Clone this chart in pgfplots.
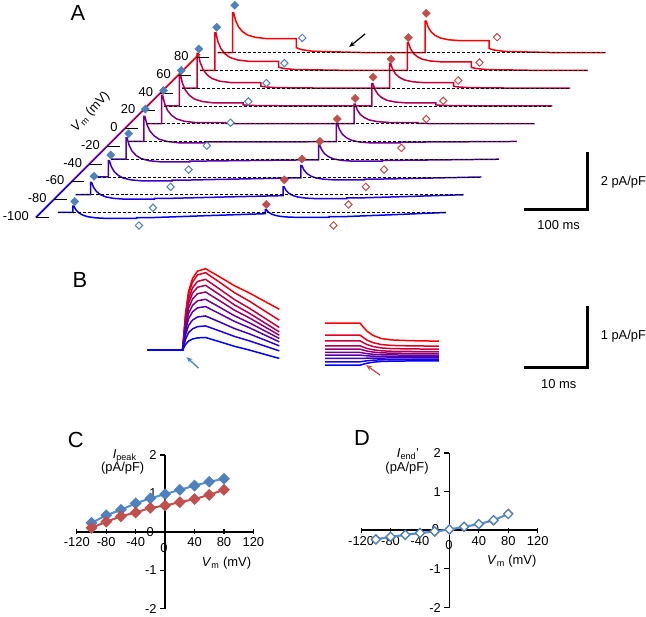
\documentclass[border=0pt]{standalone}
\usepackage{fontspec}
\setmainfont{Liberation Sans}
\usepackage{pgfplots}
\pgfplotsset{compat=1.18}
\usepackage{pgfplotstable}
\usetikzlibrary{arrows.meta}
\definecolor{stb}{RGB}{79,129,189}
\definecolor{stl}{RGB}{85,142,213}
\definecolor{rdm}{RGB}{192,80,77}
\colorlet{c0}{red!0!blue}
\colorlet{c1}{red!11!blue}
\colorlet{c2}{red!22!blue}
\colorlet{c3}{red!33!blue}
\colorlet{c4}{red!44!blue}
\colorlet{c5}{red!56!blue}
\colorlet{c6}{red!67!blue}
\colorlet{c7}{red!78!blue}
\colorlet{c8}{red!89!blue}
\colorlet{c9}{red!100!blue}
\newcommand{\fs}{\fontsize{13}{15}\selectfont}
\newcommand{\fb}{\fontsize{22}{26}\selectfont}
\pgfplotsset{colormap={br}{rgb=(0,0,1) rgb=(1,0,0)}}

\pgfplotstableread{
t v0 v1 v2 v3 v4 v5 v6 v7 v8 v9
0 0 0 0 0 0 0 0 0 0 0
15 0 0 0 0 0 0 0 0 0 0
15 6.5 12.5 16.5 21.3 25.2 28.4 31.6 34.8 37.7 40
16 6.5 12.5 16.5 21.3 25.2 28.4 31.6 34.8 37.7 40
18 2.75 7.4 10.35 14.1 17.25 20.18 23.02 26.01 29.09 32.2
21 -0.38 3.15 5.23 8.1 10.63 13.33 15.87 18.69 21.92 25.7
25 -2.63 0.09 1.54 3.78 5.86 8.4 10.72 13.41 16.75 21.02
30 -4.25 -2.12 -1.13 0.66 2.41 4.84 7 9.6 13.02 17.64
38 -5.38 -3.65 -2.97 -1.5 0.03 2.37 4.43 6.97 10.44 15.3
50 -6 -4.5 -4 -2.7 -1.3 1 3 5.5 9 14
79 -6 -4.5 -4 -2.7 -1.3 1 3 5.5 9 14
79 -5.2 -3.7 -3.2 -1.9 -0.5 0.35 1.05 1.93 3.15 4.9
84 -5.2 -3.7 -3.2 -1.9 -0.5 0.22 0.66 1.21 1.98 3.08
95 -5.1 -3.6 -3.1 -1.8 -0.4 0.1 0.3 0.55 0.9 1.4
150 -3.15 -2.25 -1.95 -1.17 -0.33 0 0 0 0 0
208 -1.2 -0.9 -0.8 -0.54 -0.26 0 0 0 0 0
208 2.8 7.8 11.5 14.5 18 19.7 22.3 24.7 27.8 31.6
209 2.8 7.8 11.5 14.5 18 19.7 22.3 24.7 27.8 31.6
211 0.46 4.26 7.15 9.55 12.15 14.15 16.51 18.94 22.01 25.72
214 -1.49 1.31 3.53 5.43 7.28 9.53 11.69 14.14 17.19 20.82
218 -2.89 -0.81 0.92 2.46 3.77 6.2 8.21 10.68 13.71 17.29
223 -3.91 -2.35 -0.97 0.31 1.23 3.79 5.7 8.19 11.2 14.74
231 -4.61 -3.41 -2.27 -1.17 -0.52 2.13 3.97 6.46 9.47 12.98
243 -5 -4 -3 -2 -1.5 1.2 3 5.5 8.5 12
272 -5 -4 -3 -2 -1.5 1.2 3 5.5 8.5 12
272 -4.2 -3.2 -2.2 -1.2 -0.7 0.42 1.05 1.93 2.98 4.2
277 -4.2 -3.2 -2.2 -1.2 -0.7 0.26 0.66 1.21 1.87 2.64
288 -4.1 -3.1 -2.1 -1.1 -0.6 0.12 0.3 0.55 0.85 1.2
340 -2.05 -1.55 -1.05 -0.55 -0.3 0 0 0 0 0
389 0 0 0 0 0 0 0 0 0 0
}\traceA

\pgfplotstableread{
x b0 b1 b2 b3 b4 b5 b6 b7 b8 b9
148 0 0 0 0 0 0 0 0 0 0
183 0 0 0 0 0 0 0 0 0 0
186 5.72 10.94 15.44 19.67 22.95 26.24 29.25 31.95 34.97 36.77
189 9.14 17.5 24.7 31.46 36.72 41.98 46.8 51.12 55.94 58.82
193 11.18 21.38 30.18 38.46 44.88 51.3 57.2 62.48 68.38 71.9
198 12.32 23.57 33.27 42.39 49.47 56.55 63.05 68.87 75.37 79.25
206 12.7 24.3 34.3 43.7 51 58.3 65 71 77.7 81.7
220 8.5 19.3 28.3 36.62 43.14 49.64 55.66 61.34 68.16 73.56
235 3.88 13.8 21.7 28.83 34.49 40.11 45.39 50.71 57.67 64.61
250 0.1 9.3 16.3 22.46 27.42 32.32 36.98 42.02 49.08 57.28
265 -4.1 4.3 10.3 15.38 19.56 23.66 27.64 32.36 39.54 49.14
280 -8.3 -0.7 4.3 8.3 11.7 15 18.3 22.7 30 41
}\traceBL

\pgfplotstableread{
x r0 r1 r2 r3 r4 r5 r6 r7 r8 r9
326 366 362.7 359.3 356 353.3 350 346.7 341.7 336 324
361 366 362.7 359.3 356 353.3 350 346.7 341.7 336 324
364 365.14 362.22 359.2 356.3 353.84 350.86 347.86 343.36 338.2 327.6
368 364.07 361.62 359.08 356.68 354.52 351.94 349.31 345.44 340.95 332.1
374 363.08 361.07 358.96 357.02 355.14 352.92 350.64 347.34 343.48 336.24
382 362.35 360.66 358.88 357.28 355.6 353.66 351.63 348.76 345.35 339.3
392 362 360.47 358.84 357.4 355.81 354 352.09 349.42 346.23 340.74
410 361.83 360.37 358.82 357.46 355.92 354.17 352.33 349.75 346.67 341.46
440 361.7 360.3 358.8 357.5 356 354.3 352.5 350 347 342
}\traceBR

\begin{document}
\begin{tikzpicture}
% ---------------- background axis in pixel coordinates ----------------
\begin{axis}[at={(0,0)}, anchor=south west, scale only axis,
  width=646bp, height=618bp, xmin=0, xmax=646, ymin=0, ymax=618,
  y dir=reverse, hide axis, clip=false]
\addplot[draw=none] coordinates {(0,0) (646,618)};
% --- panel A traces
\addplot[c0, line width=1.5bp] table[x expr=\thisrow{t}+58, y expr=213-\thisrow{v0}] {\traceA};
\addplot[c1, line width=1.5bp] table[x expr=\thisrow{t}+75.8, y expr=195.2-\thisrow{v1}] {\traceA};
\addplot[c2, line width=1.5bp] table[x expr=\thisrow{t}+93.6, y expr=177.4-\thisrow{v2}] {\traceA};
\addplot[c3, line width=1.5bp] table[x expr=\thisrow{t}+111.4, y expr=159.6-\thisrow{v3}] {\traceA};
\addplot[c4, line width=1.5bp] table[x expr=\thisrow{t}+129.2, y expr=141.8-\thisrow{v4}] {\traceA};
\addplot[c5, line width=1.5bp] table[x expr=\thisrow{t}+147, y expr=124-\thisrow{v5}] {\traceA};
\addplot[c6, line width=1.5bp] table[x expr=\thisrow{t}+164.8, y expr=106.2-\thisrow{v6}] {\traceA};
\addplot[c7, line width=1.5bp] table[x expr=\thisrow{t}+182.6, y expr=88.4-\thisrow{v7}] {\traceA};
\addplot[c8, line width=1.5bp] table[x expr=\thisrow{t}+200.4, y expr=70.6-\thisrow{v8}] {\traceA};
\addplot[c9, line width=1.5bp] table[x expr=\thisrow{t}+218.2, y expr=52.8-\thisrow{v9}] {\traceA};
% dashed zero lines
\addplot[black, line width=0.8bp, dash pattern=on 3bp off 2bp] coordinates {(58,213) (447,213)};
\addplot[black, line width=0.8bp, dash pattern=on 3bp off 2bp] coordinates {(75.8,195.2) (464.8,195.2)};
\addplot[black, line width=0.8bp, dash pattern=on 3bp off 2bp] coordinates {(93.6,177.4) (482.6,177.4)};
\addplot[black, line width=0.8bp, dash pattern=on 3bp off 2bp] coordinates {(111.4,159.6) (500.4,159.6)};
\addplot[black, line width=0.8bp, dash pattern=on 3bp off 2bp] coordinates {(129.2,141.8) (518.2,141.8)};
\addplot[black, line width=0.8bp, dash pattern=on 3bp off 2bp] coordinates {(147,124) (536,124)};
\addplot[black, line width=0.8bp, dash pattern=on 3bp off 2bp] coordinates {(164.8,106.2) (553.8,106.2)};
\addplot[black, line width=0.8bp, dash pattern=on 3bp off 2bp] coordinates {(182.6,88.4) (571.6,88.4)};
\addplot[black, line width=0.8bp, dash pattern=on 3bp off 2bp] coordinates {(200.4,70.6) (589.4,70.6)};
\addplot[black, line width=0.8bp, dash pattern=on 3bp off 2bp] coordinates {(218.2,52.8) (607.2,52.8)};
% diagonal Vm axis
\addplot[mesh, colormap name=br, point meta=explicit, line width=1.8bp] coordinates {
 (36,218) [0] (53.8,200.2) [1] (71.6,182.4) [2] (89.4,164.6) [3] (107.2,146.8) [4]
 (125,129) [5] (142.8,111.2) [6] (160.6,93.4) [7] (178.4,75.6) [8] (196.2,57.8) [9] (200,54) [9]};
\addplot[black, line width=1bp, unbounded coords=jump] coordinates {
 (36,218) (49,218) (nan,nan)
 (53.8,200.2) (66.8,200.2) (nan,nan)
 (71.6,182.4) (84.6,182.4) (nan,nan)
 (89.4,164.6) (102.4,164.6) (nan,nan)
 (107.2,146.8) (120.2,146.8) (nan,nan)
 (125,129) (138,129) (nan,nan)
 (142.8,111.2) (155.8,111.2) (nan,nan)
 (160.6,93.4) (173.6,93.4) (nan,nan)
 (178.4,75.6) (191.4,75.6) (nan,nan)
 (196.2,57.8) (209.2,57.8)};
\node[anchor=east, font=\fs, inner sep=0pt] at (29,216.5) {-100};
\node[anchor=east, font=\fs, inner sep=0pt] at (46.8,198.7) {-80};
\node[anchor=east, font=\fs, inner sep=0pt] at (64.6,180.9) {-60};
\node[anchor=east, font=\fs, inner sep=0pt] at (82.4,163.1) {-40};
\node[anchor=east, font=\fs, inner sep=0pt] at (100.2,145.3) {-20};
\node[anchor=east, font=\fs, inner sep=0pt] at (118,127.5) {0};
\node[anchor=east, font=\fs, inner sep=0pt] at (135.8,109.7) {20};
\node[anchor=east, font=\fs, inner sep=0pt] at (153.6,91.9) {40};
\node[anchor=east, font=\fs, inner sep=0pt] at (171.4,74.1) {60};
\node[anchor=east, font=\fs, inner sep=0pt] at (189.2,56.3) {80};
\node[font=\fs, rotate=47, inner sep=0pt] at (91,112) {\textit{V}\textsubscript{m} (mV)};
% markers panel A
\addplot[only marks, mark=square*, mark size=2.9bp, mark options={rotate=45, draw=stb, fill=stb}] coordinates {
 (75,202) (94.3,176.7) (111,155.3) (129,134) (145.7,109.3) (164,90.7) (181.7,70.7) (199.3,49) (217.3,27.3) (235.3,5.3)};
\addplot[only marks, mark=square*, mark size=2.9bp, mark options={rotate=45, draw=rdm, fill=rdm}] coordinates {
 (267,205) (285,180.3) (302.7,159.3) (320.7,141.7) (338,119.3) (356,98.7) (374,77.3) (392,59.3) (409.3,37.7) (427.3,13.3)};
\addplot[only marks, mark=square*, mark size=2.6bp, mark options={rotate=45, draw=stb, fill=white, line width=1bp}] coordinates {
 (139.3,226) (153.3,208.3) (171,187.3) (189,170) (207.3,146) (231,123) (249,101.7) (267,83.3) (285,63.3) (303,38)};
\addplot[only marks, mark=square*, mark size=2.6bp, mark options={rotate=45, draw=rdm, fill=white, line width=1bp}] coordinates {
 (334.3,226) (349.3,205) (366.7,187.3) (385,170) (402.3,148.3) (427.3,119.3) (444.3,101) (459.3,80.7) (480.7,62.7) (498.3,37.3)};
\addplot[black, line width=1.2bp, -{Stealth[length=6bp, width=5bp]}] coordinates {(366,34) (350,47)};
% scale bar A
\addplot[black, line width=3bp, line join=miter] coordinates {(525,210) (589,210) (589,152)};
\node[anchor=west, font=\fs, inner sep=0pt] at (602,183) {2 pA/pF};
\node[font=\fs, inner sep=0pt] at (560,226) {100 ms};
\node[font=\fb, inner sep=0pt] at (78,13) {A};
% --- panel B
\addplot[c9, line width=1.5bp] table[x=x, y expr=351-\thisrow{b9}] {\traceBL};
\addplot[c8, line width=1.5bp] table[x=x, y expr=351-\thisrow{b8}] {\traceBL};
\addplot[c7, line width=1.5bp] table[x=x, y expr=351-\thisrow{b7}] {\traceBL};
\addplot[c6, line width=1.5bp] table[x=x, y expr=351-\thisrow{b6}] {\traceBL};
\addplot[c5, line width=1.5bp] table[x=x, y expr=351-\thisrow{b5}] {\traceBL};
\addplot[c4, line width=1.5bp] table[x=x, y expr=351-\thisrow{b4}] {\traceBL};
\addplot[c3, line width=1.5bp] table[x=x, y expr=351-\thisrow{b3}] {\traceBL};
\addplot[c2, line width=1.5bp] table[x=x, y expr=351-\thisrow{b2}] {\traceBL};
\addplot[c1, line width=1.5bp] table[x=x, y expr=351-\thisrow{b1}] {\traceBL};
\addplot[c0, line width=1.5bp] table[x=x, y expr=351-\thisrow{b0}] {\traceBL};
\addplot[c9, line width=1.5bp] table[x=x, y=r9] {\traceBR};
\addplot[c8, line width=1.5bp] table[x=x, y=r8] {\traceBR};
\addplot[c7, line width=1.5bp] table[x=x, y=r7] {\traceBR};
\addplot[c6, line width=1.5bp] table[x=x, y=r6] {\traceBR};
\addplot[c5, line width=1.5bp] table[x=x, y=r5] {\traceBR};
\addplot[c4, line width=1.5bp] table[x=x, y=r4] {\traceBR};
\addplot[c3, line width=1.5bp] table[x=x, y=r3] {\traceBR};
\addplot[c2, line width=1.5bp] table[x=x, y=r2] {\traceBR};
\addplot[c1, line width=1.5bp] table[x=x, y=r1] {\traceBR};
\addplot[c0, line width=1.5bp] table[x=x, y=r0] {\traceBR};
\addplot[stb, line width=1.3bp, -{Stealth[length=6bp, width=5bp]}] coordinates {(199,369) (187,358)};
\addplot[rdm, line width=1.3bp, -{Stealth[length=6bp, width=5bp]}] coordinates {(381,376) (367,366)};
\addplot[black, line width=3bp, line join=miter] coordinates {(525,368) (589,368) (589,307)};
\node[anchor=west, font=\fs, inner sep=0pt] at (602,337) {1 pA/pF};
\node[font=\fs, inner sep=0pt] at (560,385) {10 ms};
\node[font=\fb, inner sep=0pt] at (80,281) {B};
% --- labels C and D
\node[font=\fb, inner sep=0pt] at (76,441) {C};
\node[font=\fs, inner sep=0pt] at (125,457) {\textit{I}\textsubscript{peak}};
\node[font=\fs, inner sep=0pt] at (123,469) {(pA/pF)};
\node[font=\fs, inner sep=0pt] at (227,565) {\textit{V}\textsubscript{m} (mV)};
\node[font=\fs, inner sep=0pt] at (150.7,533) {0};
\node[font=\fs, inner sep=0pt] at (164.3,549) {0};
\node[font=\fb, inner sep=0pt] at (363,439) {D};
\node[font=\fs, inner sep=0pt] at (409,455) {\textit{I}\textsubscript{end}'};
\node[font=\fs, inner sep=0pt] at (408,469) {(pA/pF)};
\node[font=\fs, inner sep=0pt] at (513,563) {\textit{V}\textsubscript{m} (mV)};
\node[font=\fs, inner sep=0pt] at (436.5,530) {0};
\node[font=\fs, inner sep=0pt] at (450,546) {0};
\end{axis}
% ---------------- panel C ----------------
\begin{axis}[at={(77bp,8bp)}, anchor=south west, scale only axis,
  width=177bp, height=154bp, xmin=-120, xmax=120, ymin=-2, ymax=2,
  axis lines=middle, axis line style={line width=1.6bp, -},
  xtick={-120,-80,-40,0,40,80,120}, ytick={-2,-1,0,1,2},
  tick style={line width=1.2bp, black}, major tick length=5bp,
  xtick align=center, ytick align=outside,
  tick label style={font=\fs},
  /pgf/number format/assume math mode=true, clip=false]
\addplot[stl, line width=2bp, mark=square*, mark size=3.2bp, mark options={rotate=45, draw=stb, fill=stb}] coordinates {
 (-100,0.23) (-80,0.43) (-60,0.57) (-40,0.74) (-20,0.87) (0,0.98) (20,1.09) (40,1.2) (60,1.3) (80,1.38)};
\addplot[rdm, line width=2bp, mark=square*, mark size=3.2bp, mark options={rotate=45, draw=rdm, fill=rdm}] coordinates {
 (-100,0.1) (-80,0.26) (-60,0.4) (-40,0.5) (-20,0.62) (0,0.68) (20,0.77) (40,0.85) (60,0.96) (80,1.09)};
\end{axis}
% ---------------- panel D ----------------
\begin{axis}[at={(362bp,9bp)}, anchor=south west, scale only axis,
  width=177bp, height=155bp, xmin=-120, xmax=120, ymin=-2, ymax=2,
  axis lines=middle, axis line style={line width=1.6bp, -},
  xtick={-120,-80,-40,0,40,80,120}, ytick={-2,-1,0,1,2},
  tick style={line width=1.2bp, black}, major tick length=5bp,
  xtick align=center, ytick align=outside,
  tick label style={font=\fs},
  /pgf/number format/assume math mode=true, clip=false]
\addplot[rdm, line width=1.2bp, mark=square*, mark size=3bp, mark options={rotate=45, draw=rdm, fill=white}] coordinates {
 (-100,-0.23) (-80,-0.18) (-60,-0.12) (-40,-0.08) (-20,-0.04) (0,0.01) (20,0.08) (40,0.15) (60,0.25) (80,0.43)};
\addplot[stl, line width=2bp, mark=square*, mark size=3.2bp, mark options={rotate=45, draw=stb, fill=white, line width=1.3bp}] coordinates {
 (-100,-0.24) (-80,-0.17) (-60,-0.12) (-40,-0.07) (-20,-0.03) (0,0.02) (20,0.09) (40,0.16) (60,0.26) (80,0.42)};
\end{axis}
\end{tikzpicture}
\end{document}
